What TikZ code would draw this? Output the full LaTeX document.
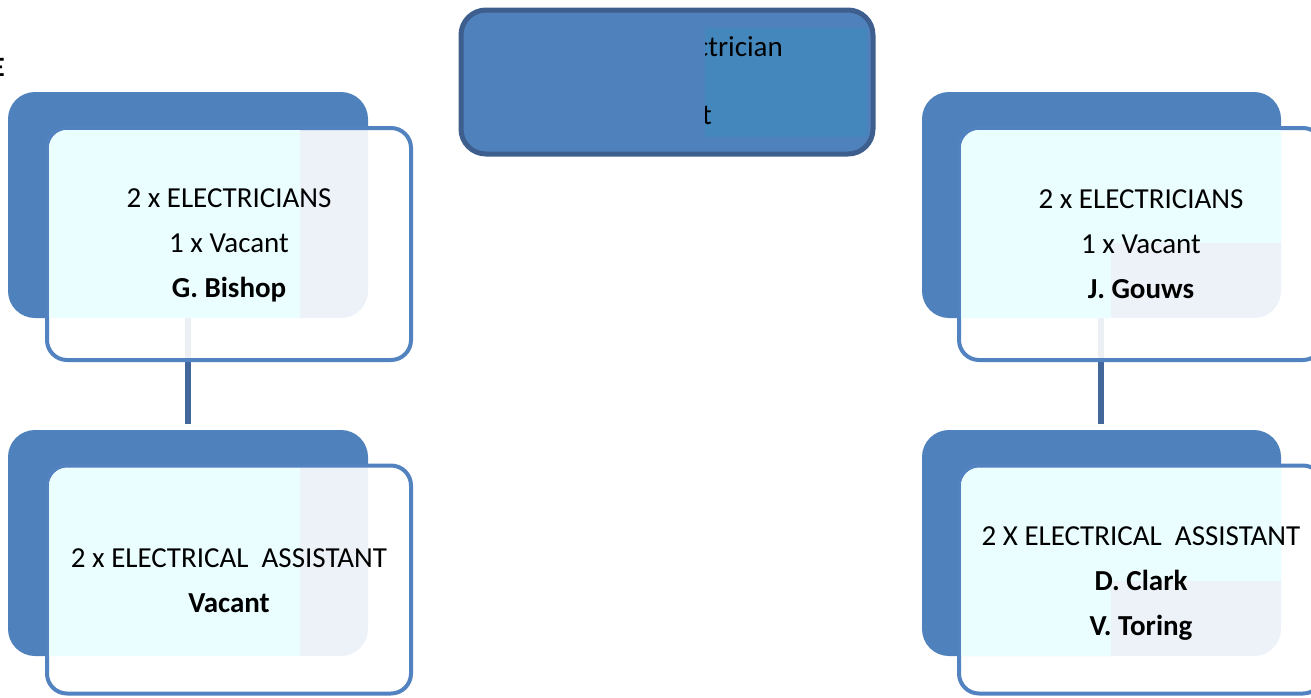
\documentclass[tikz,border=0pt]{standalone}
\usepackage{fontspec}
\setmainfont{Carlito}
\definecolor{backblue}{HTML}{4F81BD}
\definecolor{frameblue}{HTML}{5283C0}
\definecolor{paleteal}{HTML}{EAFEFF}
\definecolor{linkblue}{HTML}{41679B}
\definecolor{headborder}{HTML}{3E5F8E}
\definecolor{headinner}{HTML}{4487BC}
\tikzset{
  backbox/.style={rectangle, rounded corners=27pt, fill=backblue, draw=none,
    inner sep=0pt, minimum width=360pt, minimum height=226pt},
  frontbox/.style={rectangle, rounded corners=20pt, draw=frameblue, line width=4pt,
    fill=white, fill opacity=0.9, inner sep=0pt, minimum width=364pt},
  boxtext/.style={align=center, inner sep=0pt, text=black,
    font=\fontsize{29}{45}\selectfont},
  link/.style={draw=linkblue, line width=6pt, shorten >=6pt},
  headbox/.style={rectangle, rounded corners=25pt, draw=headborder, line width=5pt,
    fill=backblue, inner sep=0pt, minimum width=412pt, minimum height=144pt},
  headtext/.style={inner sep=0pt, text=black, font=\fontsize{29}{35}\selectfont},
}
\begin{document}
\begin{tikzpicture}[x=1pt,y=-1pt]
\useasboundingbox (0,0) rectangle (1311,697);

% column guides for the two connectors
\coordinate (lx) at (188,0);
\coordinate (rx) at (1101,0);

% ---- back panels ----
\node[backbox] (ltb) at (188,205) {};
\node[backbox] (lbb) at (188,543) {};
\node[backbox, minimum width=359pt] (rtb) at (1101.5,205) {};
\node[backbox, minimum width=359pt] (rbb) at (1101.5,543) {};

% ---- connectors ----
\draw[link] (ltb.south -| lx) -- (lbb.north -| lx);
\draw[link] (rtb.south -| rx) -- (rbb.north -| rx);

% ---- front frames ----
\node[frontbox, minimum height=232pt] (ltf) at (229,244) {};
\node[frontbox, minimum height=228pt] (lbf) at (229,579.5) {};
\node[frontbox, minimum height=232pt] (rtf) at (1141,244) {};
\node[frontbox, minimum height=228pt] (rbf) at (1141,579.5) {};

% ---- pale text panels ----
\begin{scope}
  \clip[rounded corners=18pt] (49,130) rectangle (409,358);
  \fill[paleteal] (49,130) rectangle (300,318);
\end{scope}
\begin{scope}
  \clip[rounded corners=18pt] (49,468) rectangle (409,691);
  \fill[paleteal] (49,468) rectangle (300,656);
\end{scope}
\begin{scope}
  \clip[rounded corners=18pt] (961,130) rectangle (1321,358);
  \fill[paleteal] (961,130) -- (1281,130) -- (1281,243) -- (1111,243)
    -- (1111,318) -- (961,318) -- cycle;
\end{scope}
\begin{scope}
  \clip[rounded corners=18pt] (961,468) rectangle (1321,691);
  \fill[paleteal] (961,468) -- (1281,468) -- (1281,581) -- (1111,581)
    -- (1111,656) -- (961,656) -- cycle;
\end{scope}

% ---- texts ----
\node[boxtext] (ltt) at ([yshift=-1.5pt]ltf.center) {2 x ELECTRICIANS\\1 x Vacant\\\textbf{G. Bishop}};
\node[boxtext] (lbt) at ([yshift=-1pt]lbf.center) {2 x ELECTRICAL~~ASSISTANT\\\textbf{Vacant}};
\node[boxtext] (rtt) at ([yshift=-0.5pt]rtf.center) {2 x ELECTRICIANS\\1 x Vacant\\\textbf{J. Gouws}};
\node[boxtext] (rbt) at ([yshift=-4pt]rbf.center) {2 X ELECTRICAL~~ASSISTANT\\\textbf{D. Clark}\\\textbf{V. Toring}};

% ---- heading box ----
\node[headbox] (head) at (667,82) {};
\fill[headinner] (705,28) rectangle (867,137);
\begin{scope}
  \clip (705,28) rectangle (867,137);
  \node[headtext, anchor=base east] (hl1) at (783,56) {ctrician};
  \node[headtext, anchor=base west] (hl2) at (702,124) {t};
\end{scope}

% ---- cut-off letter at the left edge ----
\node[inner sep=0pt, anchor=base east, font=\fontsize{28}{34}\selectfont\bfseries] (edge) at (5,76) {E};
\end{tikzpicture}
\end{document}
